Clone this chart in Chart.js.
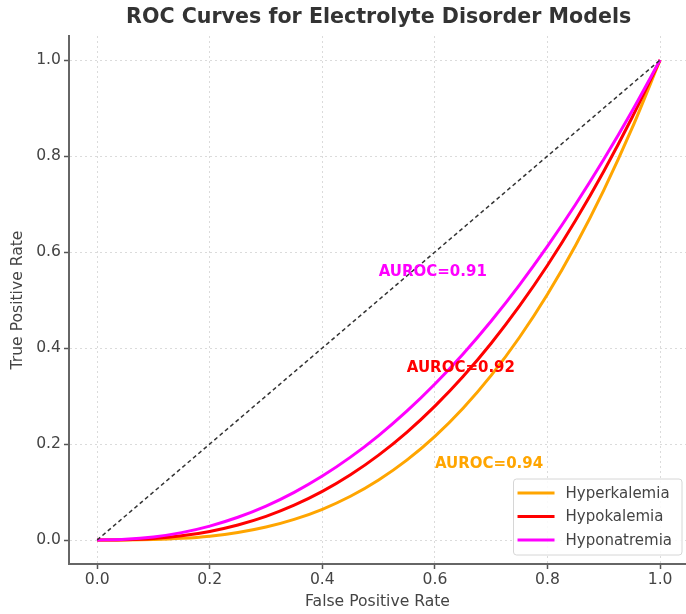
<!DOCTYPE html>
<html>
<head>
<meta charset="utf-8">
<title>ROC Curves for Electrolyte Disorder Models</title>
<script src="https://cdn.jsdelivr.net/npm/chart.js@4.4.1/dist/chart.umd.min.js"></script>
<style>
  html, body { margin: 0; padding: 0; background: #fff; }
  canvas { display: block; }
</style>
</head>
<body>
<canvas id="roc" width="686" height="614"></canvas>
<script>
// values
const fpr = [0, 0.05, 0.1, 0.15, 0.2, 0.25, 0.3, 0.35, 0.4, 0.45, 0.5, 0.55, 0.6, 0.65, 0.7, 0.75, 0.8, 0.85, 0.9, 0.95, 1];
const tprHyperkalemia = [0, 0.0001, 0.001, 0.0034, 0.008, 0.0156, 0.027, 0.0429, 0.064, 0.0911, 0.125, 0.1664, 0.216, 0.2746, 0.343, 0.4219, 0.512, 0.6141, 0.729, 0.8574, 1];
const tprHypokalemia = [0, 0.0006, 0.0032, 0.0087, 0.0179, 0.0313, 0.0493, 0.0725, 0.1012, 0.1358, 0.1768, 0.2243, 0.2789, 0.3406, 0.41, 0.4871, 0.5724, 0.6661, 0.7684, 0.8797, 1];
const tprHyponatremia = [0, 0.0014, 0.0063, 0.0154, 0.029, 0.0474, 0.0707, 0.0993, 0.1332, 0.1726, 0.2176, 0.2684, 0.325, 0.3876, 0.4563, 0.5311, 0.6121, 0.6994, 0.7931, 0.8933, 1];
const chanceX = [0, 1];
const chanceY = [0, 1];

const seriesNames = ['Hyperkalemia', 'Hypokalemia', 'Hyponatremia'];
const seriesColors = ['#FFA500', '#FF0000', '#FF00FF'];
const aurocValues = [0.94, 0.92, 0.91];
const aurocTextX = [0.6, 0.55, 0.5];
const aurocTextY = [0.15, 0.35, 0.55];

const tickValues = [0, 0.2, 0.4, 0.6, 0.8, 1.0];
const chartTitle = 'ROC Curves for Electrolyte Disorder Models';

const FONT = "'DejaVu Sans', 'Liberation Sans', sans-serif";
Chart.defaults.font.family = FONT;

const toPoints = (xs, ys) => xs.map((x, i) => ({ x, y: ys[i] }));
const curves = [tprHyperkalemia, tprHypokalemia, tprHyponatremia];

const datasets = curves.map((ys, i) => ({
  label: seriesNames[i],
  data: toPoints(fpr, ys),
  borderColor: seriesColors[i],
  borderWidth: 3,
  pointRadius: 0,
  cubicInterpolationMode: 'monotone',
  order: 3 - i
}));
datasets.push({
  label: 'Chance',
  data: toPoints(chanceX, chanceY),
  borderColor: '#333',
  borderWidth: 1.5,
  borderDash: [4, 3],
  pointRadius: 0,
  order: 0
});

// title centred over the axes, like matplotlib does
const axesTitle = {
  id: 'axesTitle',
  afterDraw(chart) {
    const { ctx, scales: { x } } = chart;
    ctx.save();
    ctx.font = `bold 20.6px ${FONT}`;
    ctx.fillStyle = '#333';
    ctx.textAlign = 'center';
    ctx.textBaseline = 'middle';
    ctx.fillText(chartTitle, x.getPixelForValue(0.5), 18);
    ctx.restore();
  }
};

// AUROC labels in data coordinates
const aurocText = {
  id: 'aurocText',
  afterDatasetsDraw(chart) {
    const { ctx, scales: { x, y } } = chart;
    ctx.save();
    ctx.font = `bold 15px ${FONT}`;
    ctx.textAlign = 'left';
    ctx.textBaseline = 'alphabetic';
    aurocValues.forEach((v, i) => {
      ctx.fillStyle = seriesColors[i];
      ctx.fillText(`AUROC=${v.toFixed(2)}`, x.getPixelForValue(aurocTextX[i]), y.getPixelForValue(aurocTextY[i]));
    });
    ctx.restore();
  }
};

// matplotlib-like legend in the lower right corner
const cornerLegend = {
  id: 'cornerLegend',
  afterDraw(chart) {
    const { ctx, chartArea } = chart;
    ctx.save();
    ctx.font = `15px ${FONT}`;
    const textW = Math.max(...seriesNames.map(n => ctx.measureText(n).width));
    const handle = 37, gap = 11, padL = 4, padR = 10, rowH = 23.5;
    const w = padL + handle + gap + textW + padR;
    const h = 76;
    const right = chartArea.right - 4;
    const bottom = chartArea.bottom - 9;
    const left = right - w, top = bottom - h;

    ctx.beginPath();
    ctx.roundRect(left, top, w, h, 3);
    ctx.fillStyle = 'rgba(255,255,255,0.85)';
    ctx.fill();
    ctx.strokeStyle = '#d6d6d6';
    ctx.lineWidth = 1;
    ctx.stroke();

    ctx.textBaseline = 'middle';
    ctx.textAlign = 'left';
    seriesNames.forEach((name, i) => {
      const cy = top + 14 + i * rowH;
      ctx.beginPath();
      ctx.moveTo(left + padL, cy);
      ctx.lineTo(left + padL + handle, cy);
      ctx.strokeStyle = seriesColors[i];
      ctx.lineWidth = 3;
      ctx.stroke();
      ctx.fillStyle = '#444';
      ctx.fillText(name, left + padL + handle + gap, cy + 1);
    });
    ctx.restore();
  }
};

const keepTicks = scale => {
  scale.ticks = tickValues.map(v => ({ value: v }));
};

const axisGrid = {
  color: 'rgba(0,0,0,0.14)',
  lineWidth: 1,
  tickLength: 5,
  tickColor: '#555',
  tickWidth: 1.5,
  tickBorderDash: []
};
const axisBorder = { display: true, color: '#666', width: 2, dash: [2, 3] };

new Chart(document.getElementById('roc'), {
  type: 'line',
  data: { datasets },
  options: {
    responsive: false,
    animation: false,
    layout: { padding: { top: 36 } },
    plugins: {
      legend: { display: false },
      tooltip: { enabled: false },
      title: { display: false }
    },
    scales: {
      x: {
        type: 'linear',
        min: -0.05,
        max: 1.046,
        afterBuildTicks: keepTicks,
        afterFit: s => { s.height = 50; },
        grid: axisGrid,
        border: axisBorder,
        ticks: {
          color: '#444',
          font: { size: 15.6 },
          padding: 2,
          maxRotation: 0,
          callback: v => v.toFixed(1)
        },
        title: {
          display: true,
          text: 'False Positive Rate',
          color: '#444',
          font: { size: 15.6 },
          padding: { top: 0, bottom: 3 }
        }
      },
      y: {
        type: 'linear',
        min: -0.05,
        max: 1.05,
        afterBuildTicks: keepTicks,
        afterFit: s => { s.width = 69; },
        grid: axisGrid,
        border: axisBorder,
        ticks: {
          color: '#444',
          font: { size: 15.6 },
          padding: 3,
          callback: v => v.toFixed(1)
        },
        title: {
          display: true,
          text: 'True Positive Rate',
          color: '#444',
          font: { size: 15.6 },
          padding: { top: 9, bottom: 0 }
        }
      }
    }
  },
  plugins: [aurocText, cornerLegend, axesTitle]
});
</script>
</body>
</html>
